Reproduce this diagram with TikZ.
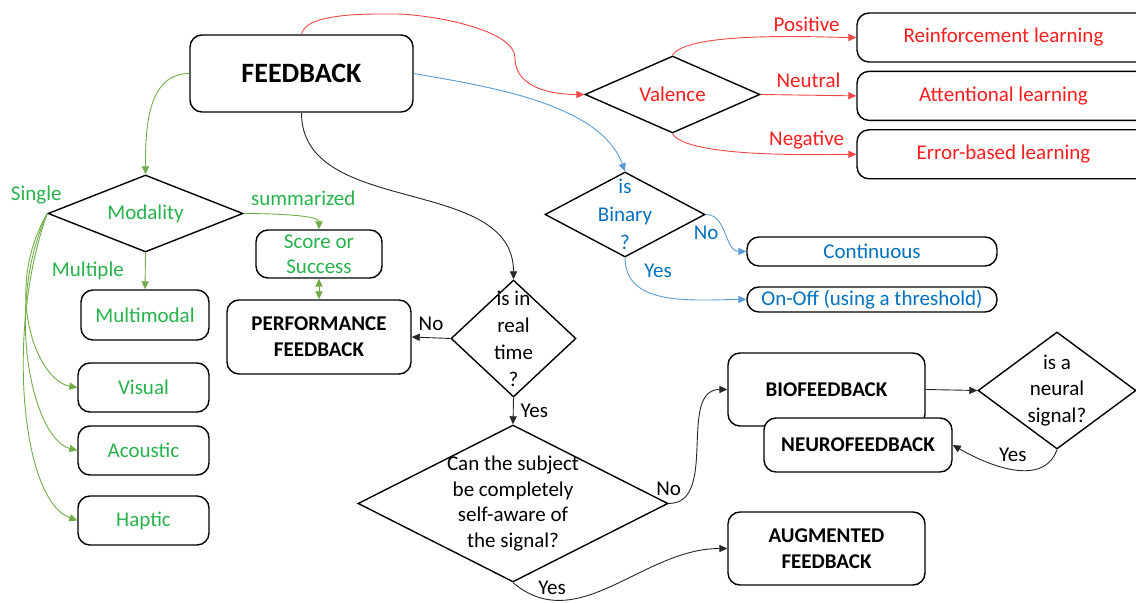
\documentclass[tikz,border=0pt]{standalone}
\usepackage{fontspec}
\setmainfont{Carlito}
\usetikzlibrary{shapes.geometric,arrows.meta,positioning}

\definecolor{fbred}{RGB}{250,30,30}
\definecolor{fbredline}{RGB}{242,70,70}
\definecolor{fbgreen}{RGB}{40,178,76}
\definecolor{fbgreenline}{RGB}{112,173,71}
\definecolor{fbblue}{RGB}{0,112,192}
\definecolor{fbblueline}{RGB}{91,155,213}

\begin{document}
\fontsize{10.5}{13.5}\selectfont%
\begin{tikzpicture}[x=0.5pt,y=-0.5pt,
    >={Triangle[length=4pt,width=3.6pt]},
    box/.style={draw,rounded corners=6pt,line width=0.7pt,align=center,inner sep=1pt},
    decision/.style={draw,diamond,line width=0.7pt,inner sep=0pt},
    conn/.style={line width=0.45pt},
    redl/.style={conn,color=fbredline},
    greenl/.style={conn,color=fbgreenline},
    bluel/.style={conn,color=fbblueline},
    blackl/.style={conn,color=black!85,text=black}]
    \useasboundingbox (0,0) rectangle (1136,603);

    % main node
    \node[box,minimum width=111.5pt,minimum height=38.5pt,font=\bfseries\fontsize{14}{17}\selectfont] (fb) at (301.5,73.5) {FEEDBACK};

    % valence branch
    \node[decision,minimum width=87.5pt,minimum height=38.5pt,label={[text=fbred]center:Valence}] (valence) at (672.5,94.5) {};
    \node[box,minimum width=146.5pt,minimum height=24.5pt,text=fbred] (reinf) at (1003.5,37.5) {Reinforcement learning};
    \node[box,minimum width=146.5pt,minimum height=24.5pt,text=fbred] (atten) [below=4pt of reinf] {Attentional learning};
    \node[box,minimum width=146.5pt,minimum height=24.5pt,text=fbred] (error) [below=4pt of atten] {Error-based learning};

    % binary branch
    \node[decision,minimum width=80pt,minimum height=42.5pt,label={[text=fbblue,align=center,font=\fontsize{10.5}{14}\selectfont]center:is\\Binary\\?}] (binary) at (625,214.5) {};
    \node[box,minimum width=125pt,minimum height=14.5pt,text=fbblue] (cont) at (872,251.5) {Continuous};
    \node[box,minimum width=125pt,minimum height=12.5pt,text=fbblue] (onoff) at (872,299.5) {On-Off (using a threshold)};

    % modality branch
    \node[decision,minimum width=97.5pt,minimum height=38.5pt,label={[text=fbgreen]center:Modality}] (modality) at (145.5,213.5) {};
    \node[box,minimum width=63pt,minimum height=24pt,text=fbgreen,font=\fontsize{10.5}{12.5}\selectfont] (score) at (319,254) {Score or\\Success};
    \node[box,minimum width=64pt,minimum height=25pt,text=fbgreen] (multi) at (145,315) {Multimodal};
    \node[box,minimum width=65.5pt,minimum height=24.5pt,text=fbgreen] (visual) at (143.5,387.5) {Visual};
    \node[box,minimum width=65.5pt,minimum height=24.5pt,text=fbgreen] (acoustic) at (143.5,450.5) {Acoustic};
    \node[box,minimum width=65.5pt,minimum height=24.5pt,text=fbgreen] (haptic) at (143.5,520.5) {Haptic};
    \node[box,minimum width=92pt,minimum height=37pt,font=\bfseries\fontsize{10.5}{13}\selectfont] (perf) at (319,337) {PERFORMANCE\\FEEDBACK};

    % real time branch
    \node[decision,minimum width=62.5pt,minimum height=58.5pt,label={[align=center]center:is in\\real\\time\\?}] (realtime) at (513.5,338.5) {};
    \node[decision,minimum width=155pt,minimum height=78.5pt,label={[align=center,font=\fontsize{10.5}{12.8}\selectfont]center:Can the subject\\be completely\\self-aware of\\the signal?}] (aware) at (513,503.5) {};
    \node[box,minimum width=98.5pt,minimum height=36.5pt,font=\bfseries] (bio) at (826.5,389.5) {BIOFEEDBACK};
    \node[box,fill=white,minimum width=94pt,minimum height=27pt,font=\bfseries] (neuro) at (858,445) {NEUROFEEDBACK};
    \node[decision,minimum width=79pt,minimum height=58.5pt,label={[align=center,font=\fontsize{10.5}{13.2}\selectfont]center:is a\\neural\\signal?}] (neural) at (1057,390.5) {};
    \node[box,minimum width=98.5pt,minimum height=36.5pt,font=\bfseries\fontsize{10.5}{13}\selectfont] (aug) at (826.5,548.5) {AUGMENTED\\FEEDBACK};

    \coordinate (redtop) at (395,14);
    \coordinate (redbend) at (515,58);

    \draw[redl,->] (fb.north) to[out=80,in=180,looseness=0.6] (redtop)
        to[out=0,in=90,looseness=0.6] (redbend) to[out=-90,in=180] (valence.west);
    \path[redl,->]
    (valence.north) edge[out=60,in=180,looseness=0.4] node[pos=0.7,above=-1pt,text=fbred] {Positive} (reinf.west)
    (valence.east) edge node[above,text=fbred] {Neutral} (atten.west)
    (valence.south) edge[out=-60,in=180,looseness=0.4] node[pos=0.7,above=-1pt,text=fbred] {Negative} (error.west);

    \path[bluel,->]
    (fb.east) edge[out=-10,in=110,looseness=0.8] (binary.north)
    (binary.east) edge[out=0,in=180] node[midway,left,text=fbblue] {No} (cont.west)
    (binary.south) edge[out=-90,in=180] node[pos=0.25,above right,text=fbblue] {Yes} (onoff.west);

    \path[greenl,->]
    (fb.west) edge[out=180,in=90] (modality.north)
    (modality.east) edge[out=0,in=90,looseness=0.5] node[pos=0,above right,text=fbgreen] {summarized} (score.north)
    (modality.south) edge node[midway,left=7pt,text=fbgreen] {Multiple} (multi.north)
    (modality.west) edge[out=-120,in=170,out looseness=1.3,in looseness=0.6] node[pos=0,above=1pt,xshift=-5.5pt,text=fbgreen] {Single} (visual.west)
    (modality.west) edge[out=-115,in=165,out looseness=1.1,in looseness=0.5] (acoustic.west)
    (modality.west) edge[out=-110,in=160,out looseness=1,in looseness=0.5] (haptic.west);
    \draw[greenl,<->] (score) -- (perf);

    \path[blackl,->]
    (fb.south) edge[out=-90,in=90] (realtime.north)
    (realtime.west) edge node[above] {No} (perf.east)
    (realtime.south) edge node[right] {Yes} (aware.north)
    (aware.east) edge[out=0,in=180] node[pos=0,above] {No} (bio.west)
    (aware.south) edge[out=-40,in=180] node[pos=0.2,above=-1pt] {Yes} (aug.west)
    (bio.east) edge (neural.west)
    (neural.south) edge[out=-110,in=-30] node[midway,above] {Yes} (neuro.east);
\end{tikzpicture}
\end{document}
